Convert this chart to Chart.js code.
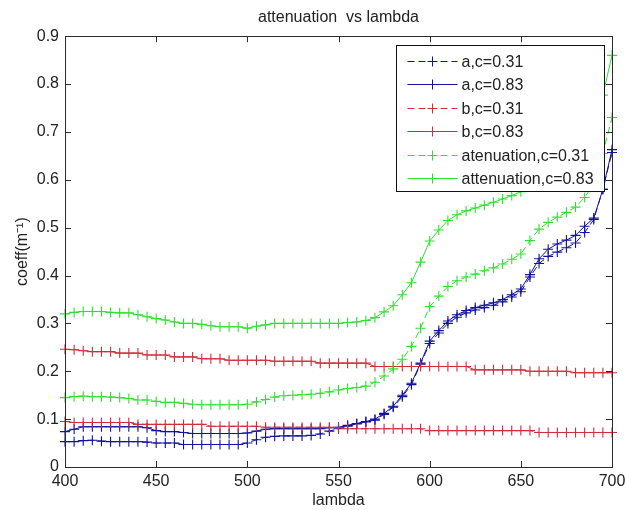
<!DOCTYPE html>
<html>
<head>
<meta charset="utf-8">
<title>attenuation vs lambda</title>
<script src="https://cdn.jsdelivr.net/npm/chart.js@4.4.1/dist/chart.umd.min.js"></script>
<style>
  html, body { margin: 0; padding: 0; background: #fff; }
</style>
</head>
<body>
<canvas id="chart" width="626" height="510"></canvas>
<script>
// wavelength samples (nm), one every 5 nm
const lambda = [400, 405, 410, 415, 420, 425, 430, 435, 440, 445,
                450, 455, 460, 465, 470, 475, 480, 485, 490, 495,
                500, 505, 510, 515, 520, 525, 530, 535, 540, 545,
                550, 555, 560, 565, 570, 575, 580, 585, 590, 595,
                600, 605, 610, 615, 620, 625, 630, 635, 640, 645,
                650, 655, 660, 665, 670, 675, 680, 685, 690, 695, 700];

const a031 = [0.053, 0.053, 0.055, 0.056, 0.054, 0.053, 0.053, 0.053, 0.053, 0.052,
              0.050, 0.050, 0.050, 0.047, 0.047, 0.047, 0.047, 0.047, 0.047, 0.047,
              0.050, 0.057, 0.062, 0.064, 0.065, 0.065, 0.065, 0.066, 0.069, 0.075,
              0.080, 0.085, 0.090, 0.094, 0.098, 0.110, 0.125, 0.147, 0.172, 0.215,
              0.258, 0.280, 0.300, 0.313, 0.322, 0.328, 0.333, 0.338, 0.345, 0.355,
              0.366, 0.397, 0.425, 0.440, 0.449, 0.458, 0.468, 0.490, 0.517, 0.580, 0.657];

const a083 = [0.074, 0.079, 0.084, 0.084, 0.084, 0.084, 0.084, 0.084, 0.084, 0.082,
              0.076, 0.074, 0.074, 0.072, 0.070, 0.070, 0.070, 0.070, 0.070, 0.070,
              0.071, 0.075, 0.079, 0.080, 0.080, 0.080, 0.080, 0.080, 0.080, 0.082,
              0.083, 0.087, 0.091, 0.095, 0.100, 0.112, 0.127, 0.150, 0.175, 0.217,
              0.263, 0.285, 0.305, 0.318, 0.327, 0.333, 0.338, 0.343, 0.350, 0.360,
              0.372, 0.402, 0.435, 0.455, 0.466, 0.474, 0.484, 0.503, 0.520, 0.580, 0.663];

const b031 = [0.095, 0.093, 0.093, 0.093, 0.093, 0.093, 0.093, 0.093, 0.089, 0.089,
              0.089, 0.089, 0.089, 0.089, 0.089, 0.089, 0.085, 0.085, 0.085, 0.085,
              0.085, 0.085, 0.083, 0.083, 0.083, 0.083, 0.083, 0.083, 0.083, 0.083,
              0.082, 0.080, 0.080, 0.080, 0.080, 0.080, 0.080, 0.080, 0.080, 0.080,
              0.076, 0.076, 0.076, 0.076, 0.076, 0.076, 0.076, 0.076, 0.076, 0.076,
              0.076, 0.076, 0.072, 0.072, 0.072, 0.072, 0.072, 0.072, 0.072, 0.072, 0.072];

const b083 = [0.246, 0.245, 0.243, 0.241, 0.241, 0.241, 0.238, 0.238, 0.238, 0.234,
              0.234, 0.234, 0.230, 0.230, 0.230, 0.226, 0.226, 0.226, 0.223, 0.223,
              0.223, 0.223, 0.223, 0.221, 0.221, 0.221, 0.221, 0.221, 0.217, 0.217,
              0.217, 0.217, 0.217, 0.217, 0.210, 0.210, 0.210, 0.210, 0.210, 0.210,
              0.210, 0.210, 0.210, 0.210, 0.210, 0.203, 0.203, 0.203, 0.203, 0.203,
              0.203, 0.200, 0.200, 0.200, 0.200, 0.200, 0.197, 0.197, 0.197, 0.197, 0.197];

const att031 = [0.145, 0.147, 0.148, 0.147, 0.147, 0.146, 0.145, 0.143, 0.140, 0.140,
                0.137, 0.135, 0.135, 0.133, 0.131, 0.130, 0.130, 0.130, 0.130, 0.130,
                0.131, 0.136, 0.141, 0.146, 0.149, 0.150, 0.151, 0.152, 0.154, 0.157,
                0.161, 0.164, 0.166, 0.169, 0.177, 0.190, 0.205, 0.225, 0.252, 0.290,
                0.335, 0.357, 0.377, 0.389, 0.397, 0.403, 0.410, 0.416, 0.424, 0.434,
                0.445, 0.473, 0.497, 0.511, 0.522, 0.532, 0.543, 0.563, 0.592, 0.655, 0.730];

const att083 = [0.320, 0.323, 0.325, 0.325, 0.325, 0.323, 0.322, 0.322, 0.318, 0.314,
                0.310, 0.307, 0.303, 0.300, 0.300, 0.298, 0.295, 0.293, 0.293, 0.293,
                0.290, 0.294, 0.297, 0.300, 0.300, 0.300, 0.300, 0.300, 0.300, 0.300,
                0.300, 0.302, 0.303, 0.306, 0.312, 0.324, 0.337, 0.360, 0.385, 0.428,
                0.472, 0.495, 0.515, 0.527, 0.535, 0.541, 0.547, 0.553, 0.560, 0.567,
                0.575, 0.600, 0.635, 0.655, 0.664, 0.672, 0.683, 0.700, 0.720, 0.777, 0.860];

const seriesLabels = ['a,c=0.31', 'a,c=0.83', 'b,c=0.31', 'b,c=0.83', 'atenuation,c=0.31', 'attenuation,c=0.83'];
const seriesValues = [a031, a083, b031, b083, att031, att083];
const seriesColors = ['#12129e', '#12129e', '#cf2e3a', '#cf2e3a', '#30e030', '#30e030'];
const DASH = [7, 4];

const FONT = '"Liberation Sans", Arial, Helvetica, sans-serif';
const AXIS_COLOR = '#2b2b2b';

Chart.defaults.font.family = FONT;
Chart.defaults.font.size = 16;
Chart.defaults.color = '#222';

const datasets = seriesLabels.map((label, i) => ({
  label,
  data: lambda.map((x, k) => ({ x, y: seriesValues[i][k] })),
  borderColor: seriesColors[i],
  backgroundColor: seriesColors[i],
  borderWidth: 1,
  borderDash: (i % 2 === 0) ? DASH : [],
  pointStyle: 'cross',
  pointRadius: 5,
  pointHoverRadius: 5,
  pointBorderWidth: 1.1,
  pointBorderColor: seriesColors[i],
  tension: 0,
  fill: false,
  clip: false,
  order: seriesLabels.length - i, // matlab draws later series on top
}));

// box around the axes + inward ticks on all four sides
const axesBox = {
  id: 'axesBox',
  afterDatasetsDraw(chart) {
    const { ctx, chartArea: a, scales } = chart;
    const len = 6;
    ctx.save();
    ctx.strokeStyle = AXIS_COLOR;
    ctx.lineWidth = 1;
    ctx.beginPath();
    scales.x.ticks.forEach(t => {
      const px = Math.round(scales.x.getPixelForValue(t.value)) + 0.5;
      ctx.moveTo(px, a.bottom); ctx.lineTo(px, a.bottom - len);
      ctx.moveTo(px, a.top); ctx.lineTo(px, a.top + len);
    });
    scales.y.ticks.forEach(t => {
      const py = Math.round(scales.y.getPixelForValue(t.value)) + 0.5;
      ctx.moveTo(a.left, py); ctx.lineTo(a.left + len, py);
      ctx.moveTo(a.right, py); ctx.lineTo(a.right - len, py);
    });
    ctx.stroke();
    ctx.strokeRect(Math.round(a.left) + 0.5, Math.round(a.top) + 0.5,
                   Math.round(a.right - a.left), Math.round(a.bottom - a.top));
    ctx.restore();
  }
};

// matlab-style legend box in the top right corner of the axes
const boxLegend = {
  id: 'boxLegend',
  afterDraw(chart) {
    const { ctx, chartArea: a } = chart;
    const w = 208, h = 146;
    const left = Math.round(a.right - 8 - w) + 0.5;
    const top = Math.round(a.top + 9) + 0.5;
    const rowGap = 23.5;
    ctx.save();
    ctx.fillStyle = '#fff';
    ctx.fillRect(left, top, w, h);
    ctx.strokeStyle = '#111';
    ctx.lineWidth = 1;
    ctx.strokeRect(left, top, w, h);
    ctx.font = '16px ' + FONT;
    ctx.textBaseline = 'middle';
    chart.data.datasets.forEach((ds, i) => {
      const y = Math.round(top + 15 + i * rowGap) + 0.5;
      ctx.strokeStyle = ds.borderColor;
      ctx.setLineDash(ds.borderDash);
      ctx.beginPath();
      ctx.moveTo(left + 11, y);
      ctx.lineTo(left + 61, y);
      ctx.stroke();
      ctx.setLineDash([]);
      ctx.beginPath();
      ctx.moveTo(left + 31, y); ctx.lineTo(left + 41, y);
      ctx.moveTo(left + 36, y - 5); ctx.lineTo(left + 36, y + 5);
      ctx.stroke();
      ctx.fillStyle = '#222';
      ctx.fillText(ds.label, left + 65, y + 1);
    });
    ctx.restore();
  }
};

new Chart(document.getElementById('chart'), {
  type: 'line',
  data: { datasets },
  options: {
    responsive: false,
    animation: false,
    events: [],
    layout: { padding: { left: 0, right: 14, top: 0, bottom: 0 } },
    plugins: {
      legend: { display: false },
      tooltip: { enabled: false },
      title: {
        display: true,
        text: 'attenuation  vs lambda',
        fullSize: false,
        color: '#222',
        font: { size: 16, weight: 'normal' },
        padding: { top: 8, bottom: 9 },
      },
    },
    scales: {
      x: {
        type: 'linear',
        min: 400,
        max: 700,
        ticks: { stepSize: 50, padding: 5, color: '#222', maxRotation: 0 },
        grid: { drawOnChartArea: false, drawTicks: false },
        border: { display: false },
        title: { display: true, text: 'lambda', color: '#222', padding: { top: 0, bottom: 0 } },
        afterFit(scale) {
          scale.height = 43;
          // let the end labels hang over the padding instead of shrinking the plot
          scale.paddingLeft = 0;
          scale.paddingRight = 0;
        },
      },
      y: {
        type: 'linear',
        min: 0,
        max: 0.9,
        ticks: {
          stepSize: 0.1,
          padding: 6,
          color: '#222',
          callback: v => String(Math.round(v * 10) / 10),
        },
        grid: { drawOnChartArea: false, drawTicks: false },
        border: { display: false },
        title: { display: true, text: 'coeff(m⁻¹)', color: '#222', padding: { top: 13, bottom: 0 } },
        afterFit(scale) { scale.width = 65; },
      },
    },
  },
  plugins: [axesBox, boxLegend],
});
</script>
</body>
</html>
